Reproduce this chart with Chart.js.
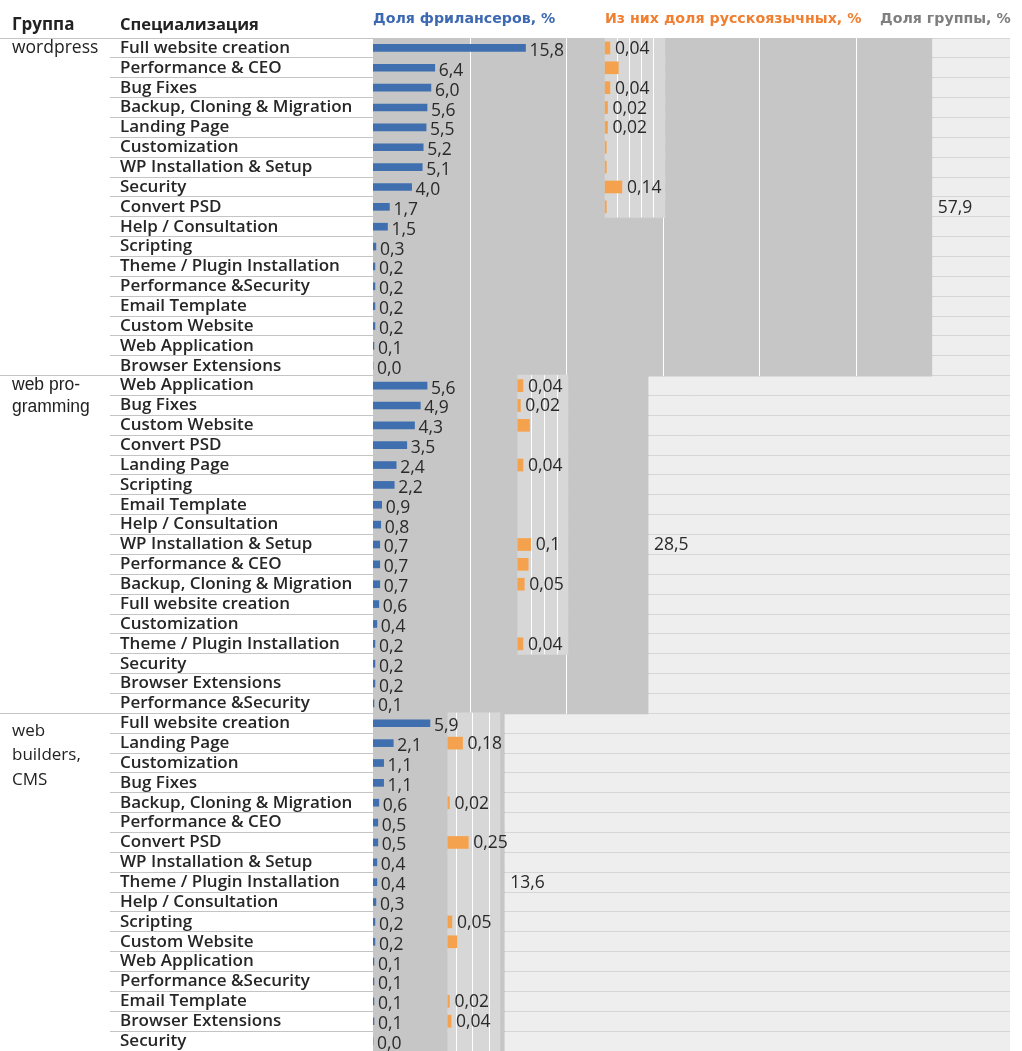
<!DOCTYPE html>
<html>
<head>
<meta charset="utf-8">
<script src="https://cdn.jsdelivr.net/npm/chart.js@4.4.1/dist/chart.umd.min.js"></script>
<style>
  body { margin: 0; background: #fff; overflow: hidden; }
  #wrap { position: relative; width: 1022px; height: 1051px; }
  #box { position: absolute; left: 0; top: 0; width: 1022px; height: 1051px; }
  .hd { position: absolute; white-space: nowrap; font-weight: bold; }
  .hd.left { top: 12px; font-family: "Open Sans"; font-size: 16.5px; color: #222; }
  .hd.top { top: 10px; font-family: "DejaVu Sans"; font-size: 14.2px; }
</style>
</head>
<body>
<div id="wrap">
  <div id="box"><canvas id="chart"></canvas></div>
  <div class="hd left" style="left:12px;font-size:17px">Группа</div>
  <div class="hd left" style="left:120px">Специализация</div>
  <div class="hd top" style="left:373px;color:#3d69b2">Доля фрилансеров, %</div>
  <div class="hd top" style="left:605px;color:#ef7f31">Из них доля русскоязычных, %</div>
  <div class="hd top" style="left:880px;color:#7f7f7f">Доля группы, %</div>
</div>
<script>
'use strict';

// ---- data ----
const groupNames = ['wordpress', 'web programming', 'web builders, CMS'];
const groupShare = [57.9, 28.5, 13.6];

const specsWordpress = ['Full website creation', 'Performance & CEO', 'Bug Fixes', 'Backup, Cloning & Migration',
  'Landing Page', 'Customization', 'WP Installation & Setup', 'Security', 'Convert PSD', 'Help / Consultation',
  'Scripting', 'Theme / Plugin Installation', 'Performance &Security', 'Email Template', 'Custom Website',
  'Web Application', 'Browser Extensions'];
const freelWordpress = [15.8, 6.4, 6.0, 5.6, 5.5, 5.2, 5.1, 4.0, 1.7, 1.5, 0.3, 0.2, 0.2, 0.2, 0.2, 0.1, 0.0];
const ruWordpress = [0.04, 0.11, 0.04, 0.02, 0.02, 0.01, 0.01, 0.14, 0.01, null, null, null, null, null, null, null, null];
const ruShownWordpress = [1, 0, 1, 1, 1, 0, 0, 1, 0, 0, 0, 0, 0, 0, 0, 0, 0];

const specsWebProg = ['Web Application', 'Bug Fixes', 'Custom Website', 'Convert PSD', 'Landing Page', 'Scripting',
  'Email Template', 'Help / Consultation', 'WP Installation & Setup', 'Performance & CEO',
  'Backup, Cloning & Migration', 'Full website creation', 'Customization', 'Theme / Plugin Installation',
  'Security', 'Browser Extensions', 'Performance &Security'];
const freelWebProg = [5.6, 4.9, 4.3, 3.5, 2.4, 2.2, 0.9, 0.8, 0.7, 0.7, 0.7, 0.6, 0.4, 0.2, 0.2, 0.2, 0.1];
const ruWebProg = [0.04, 0.02, 0.09, null, 0.04, null, null, null, 0.1, 0.08, 0.05, null, null, 0.04, null, null, null];
const ruShownWebProg = [1, 1, 0, 0, 1, 0, 0, 0, 1, 0, 1, 0, 0, 1, 0, 0, 0];

const specsBuilders = ['Full website creation', 'Landing Page', 'Customization', 'Bug Fixes',
  'Backup, Cloning & Migration', 'Performance & CEO', 'Convert PSD', 'WP Installation & Setup',
  'Theme / Plugin Installation', 'Help / Consultation', 'Scripting', 'Custom Website', 'Web Application',
  'Performance &Security', 'Email Template', 'Browser Extensions', 'Security'];
const freelBuilders = [5.9, 2.1, 1.1, 1.1, 0.6, 0.5, 0.5, 0.4, 0.4, 0.3, 0.2, 0.2, 0.1, 0.1, 0.1, 0.1, 0.0];
const ruBuilders = [null, 0.18, null, null, 0.02, null, 0.25, null, null, null, 0.05, 0.11, null, null, 0.02, 0.04, null];
const ruShownBuilders = [0, 1, 0, 0, 1, 0, 1, 0, 0, 0, 1, 0, 0, 0, 1, 1, 0];

// ---- layout (axis units of the main x scale, 0..66 %) ----
const X_MAX = 66;
const PX_PER_PCT = 637 / X_MAX;
const mainGridSteps = [10, 20, 30, 40, 50, 60];
const shareLabelRow = 8;
const ruPanels = [
  { first: 0, last: 8, start: 24.05, end: 30.25, pxPerUnit: 120, lines: [0.1, 0.2, 0.3, 0.4] },
  { first: 0, last: 13, start: 15.0, end: 20.2, pxPerUnit: 130, lines: [0.1, 0.2, 0.3] },
  { first: 0, last: 16, start: 7.75, end: 13.15, pxPerUnit: 82, lines: [0.1, 0.3, 0.5] }
];
const groupLabelLines = [['wordpress'], ['', 'web pro-', 'gramming'], ['', 'web', 'builders,', 'CMS']];
const groupLabelRow = [0, 0, 1];
const groupLabelLead = [18, 22, 24.5];
const groupLabelFont = ['Open Sans', 'Liberation Sans', 'Open Sans'];
const groupLabelSize = [17.5, 17.5, 17];

// ---- flatten into rows ----
const specs = [specsWordpress, specsWebProg, specsBuilders];
const freel = [freelWordpress, freelWebProg, freelBuilders];
const ru = [ruWordpress, ruWebProg, ruBuilders];
const ruShown = [ruShownWordpress, ruShownWebProg, ruShownBuilders];

let rowSpecs = [], rowFreel = [], rowRu = [], rowRuShown = [], rowGroup = [], rowInGroup = [];
let rowShare = [], rowPanel = [], rowRuBar = [], rowGroupLabel = [];

groupNames.forEach(function(name, g) {
  const p = ruPanels[g];
  specs[g].forEach(function(spec, j) {
    rowSpecs.push(spec);
    rowFreel.push(freel[g][j]);
    rowRu.push(ru[g][j]);
    rowRuShown.push(ruShown[g][j]);
    rowGroup.push(g);
    rowInGroup.push(j);
    rowShare.push(groupShare[g]);
    rowPanel.push(j >= p.first && j <= p.last ? [p.start, p.end] : null);
    const v = ru[g][j];
    rowRuBar.push(v == null ? null : [p.start, p.start + v * p.pxPerUnit / PX_PER_PCT]);
    rowGroupLabel.push(j === groupLabelRow[g] ? groupLabelLines[g] : '');
  });
});

const groupStarts = [0, specsWordpress.length, specsWordpress.length + specsWebProg.length];

function fmt1(v) {
  return v.toFixed(1).replace('.', ',');
}

function fmtRu(v) {
  return String(v).replace('.', ',');
}

// ---- plugins ----
const areaBackground = {
  id: 'areaBackground',
  beforeDraw(chart) {
    const a = chart.chartArea, ctx = chart.ctx;
    ctx.save();
    ctx.fillStyle = '#eeeeee';
    ctx.fillRect(a.left, a.top, a.right - a.left, a.bottom - a.top);
    ctx.restore();
  }
};

const whiteLines = {
  id: 'whiteLines',
  afterDatasetDraw(chart, args) {
    if (args.index !== 0 && args.index !== 1) return;
    const x = chart.scales.x, ctx = chart.ctx;
    ctx.save();
    ctx.strokeStyle = '#ffffff';
    ctx.lineWidth = 1;
    args.meta.data.forEach(function(bar, i) {
      let values;
      if (args.index === 0) {
        values = mainGridSteps.filter(function(t) { return t < rowShare[i]; });
      } else {
        if (!rowPanel[i]) return;
        const p = ruPanels[rowGroup[i]];
        values = p.lines.map(function(u) { return p.start + u * p.pxPerUnit / PX_PER_PCT; });
      }
      const top = bar.y - bar.height / 2, bottom = bar.y + bar.height / 2;
      values.forEach(function(t) {
        const px = Math.round(x.getPixelForValue(t)) + 0.5;
        ctx.beginPath();
        ctx.moveTo(px, top);
        ctx.lineTo(px, bottom);
        ctx.stroke();
      });
    });
    ctx.restore();
  }
};

const valueLabels = {
  id: 'valueLabels',
  afterDatasetsDraw(chart) {
    const ctx = chart.ctx;
    ctx.save();
    ctx.font = '17.5px "Open Sans"';
    ctx.fillStyle = '#2a2a2a';
    ctx.textBaseline = 'middle';
    ctx.textAlign = 'left';

    chart.getDatasetMeta(2).data.forEach(function(bar, i) {
      ctx.fillText(fmt1(rowFreel[i]), bar.x + 4, bar.y + 3);
    });

    chart.getDatasetMeta(3).data.forEach(function(bar, i) {
      if (rowRu[i] == null || !rowRuShown[i]) return;
      ctx.fillText(fmtRu(rowRu[i]), bar.x + 5, bar.y + 1);
    });

    chart.getDatasetMeta(0).data.forEach(function(bar, i) {
      if (rowInGroup[i] !== shareLabelRow) return;
      ctx.fillText(fmt1(rowShare[i]), bar.x + 6, bar.y + 1);
    });
    ctx.restore();
  }
};

// ---- chart ----
let myChart = new Chart(document.getElementById('chart'), {
  type: 'bar',
  data: {
    labels: rowSpecs,
    datasets: [
      {
        label: 'Доля группы, %',
        data: rowShare,
        backgroundColor: '#c6c6c6',
        barThickness: 21,
        grouped: false,
        order: 4
      },
      {
        label: 'panel',
        data: rowPanel,
        backgroundColor: '#d7d7d7',
        barThickness: 21,
        grouped: false,
        order: 3
      },
      {
        label: 'Доля фрилансеров, %',
        data: rowFreel,
        backgroundColor: '#3f6fae',
        barThickness: 7,
        grouped: false,
        order: 2
      },
      {
        label: 'Из них доля русскоязычных, %',
        data: rowRuBar,
        backgroundColor: '#f5a24e',
        barThickness: 12,
        grouped: false,
        order: 1
      }
    ]
  },
  options: {
    indexAxis: 'y',
    responsive: true,
    maintainAspectRatio: false,
    animation: false,
    layout: { padding: { left: 12, top: 38, right: 12, bottom: 0 } },
    plugins: {
      legend: { display: false },
      tooltip: { enabled: false }
    },
    scales: {
      x: { type: 'linear', min: 0, max: X_MAX, display: false },
      y: {
        type: 'category',
        position: 'left',
        weight: 0,
        offset: true,
        grid: {
          offset: true,
          color: '#d6d6d6',
          tickColor: '#c4c4c4',
          tickLength: 263
        },
        border: { display: false },
        ticks: {
          autoSkip: false,
          crossAlign: 'far',
          padding: 0,
          color: '#262626',
          font: { family: 'Open Sans', size: 17, weight: '600' }
        },
        afterFit(scale) {
          scale.width = 253;
          scale.paddingTop = 0;
          scale.paddingBottom = 0;
        }
      },
      yg: {
        type: 'category',
        position: 'left',
        weight: 1,
        offset: true,
        labels: rowGroupLabel,
        grid: {
          offset: true,
          drawOnChartArea: false,
          tickLength: 120,
          color: function(ctx) {
            return groupStarts.indexOf(ctx.index) >= 0 ? '#c4c4c4' : 'rgba(0,0,0,0)';
          }
        },
        border: { display: false },
        ticks: {
          autoSkip: false,
          crossAlign: 'far',
          padding: 0,
          color: '#222222',
          font: function(ctx) {
            const g = rowGroup[ctx.index] || 0;
            return { family: groupLabelFont[g], size: groupLabelSize[g], lineHeight: groupLabelLead[g] / groupLabelSize[g] };
          }
        },
        afterFit(scale) {
          scale.width = 108;
          scale.paddingTop = 0;
          scale.paddingBottom = 0;
        }
      }
    }
  },
  plugins: [areaBackground, whiteLines, valueLabels]
});
</script>
</body>
</html>
